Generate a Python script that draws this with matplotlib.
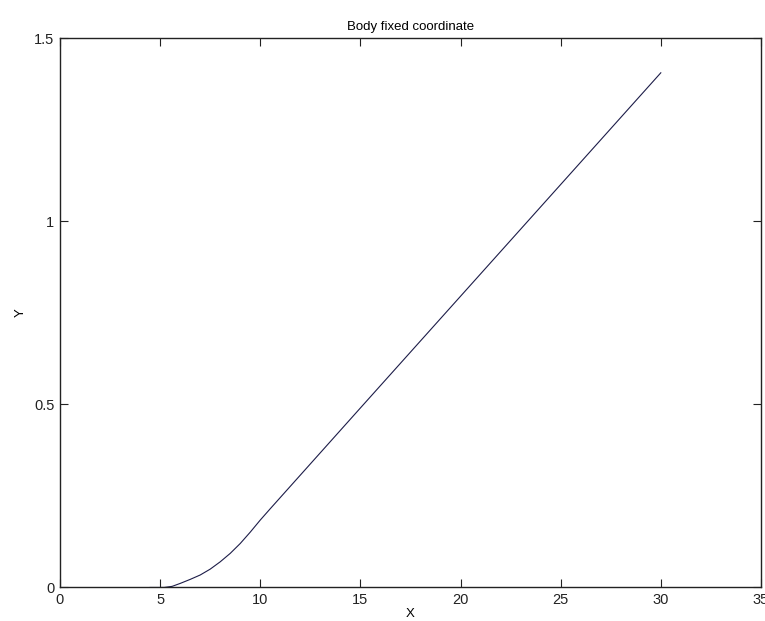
import numpy as np
import matplotlib.pyplot as plt

plt.rcParams['font.family'] = ['Liberation Sans', 'DejaVu Sans']

# body-fixed trajectory, X vs Y
x_pos = [4.5, 5.2, 5.6, 6.0, 6.5, 7.0, 7.5, 8.0, 8.5, 9.0, 9.5, 10.0, 10.5, 15.0, 20.0, 25.0, 30.0]
y_pos = [0.0, 0.0, 0.003, 0.011, 0.022, 0.034, 0.05, 0.07, 0.093, 0.12, 0.151, 0.184, 0.215, 0.49, 0.795, 1.10, 1.405]

x_ticks = [0, 5, 10, 15, 20, 25, 30, 35]
y_ticks = [0, 0.5, 1, 1.5]

fig = plt.figure(figsize=(7.65, 6.21), dpi=100)
ax = fig.add_axes([0.0784, 0.054, 0.9163, 0.8848])

ax.plot(x_pos, y_pos, color='#1c1c48', linewidth=0.8)

ax.set_xlim(0, 35)
ax.set_ylim(0, 1.5)
ax.set_xticks(x_ticks)
ax.set_yticks(y_ticks)
ax.set_yticklabels(['0', '0.5', '1', '1.5'])
ax.tick_params(direction='in', length=6, width=0.8, top=True, right=True,
               labelsize=10.5, colors='#222222', pad=4)
for s in ax.spines.values():
    s.set_linewidth(1.0)
    s.set_color('#222222')

ax.set_title('Body fixed coordinate', fontsize=9.5, pad=6)
ax.set_xlabel('X', fontsize=9.5, labelpad=1)
ax.set_ylabel('Y', fontsize=9.5, labelpad=5)

fig.savefig('out.png', dpi=100)
